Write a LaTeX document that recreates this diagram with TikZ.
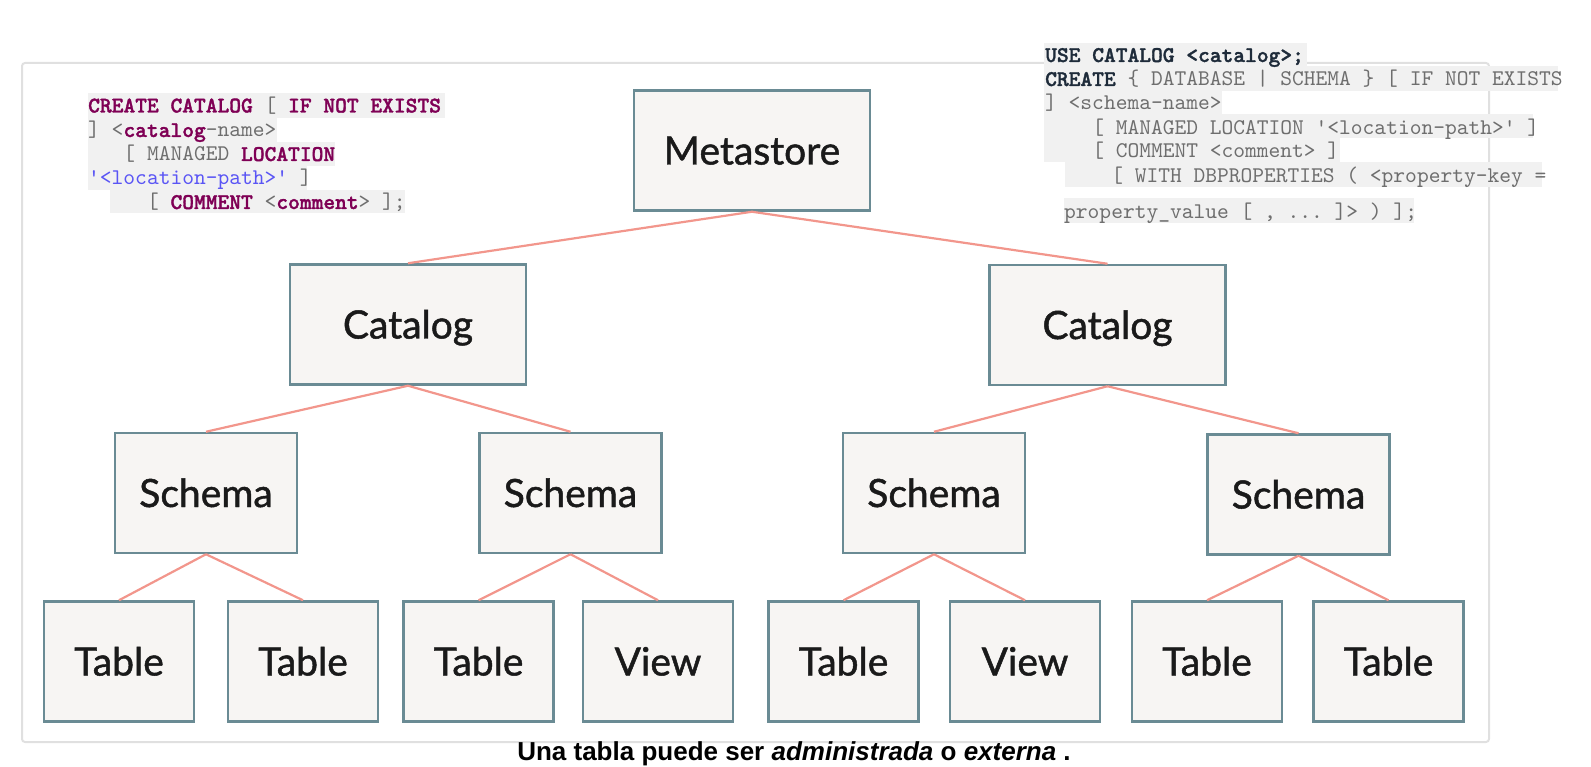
\documentclass[tikz,border=0pt]{standalone}
\usepackage{fontspec}
\setmonofont{lmmono10-regular.otf}[BoldFont=lmmonolt10-bold.otf, BoldFeatures={FakeBold=1.5}]
\newfontfamily\labelfont{Lato}[FakeBold=1.2]
\newfontfamily\capfont{Liberation Sans}
\definecolor{boxline}{HTML}{6A8B94}
\definecolor{boxfill}{HTML}{F7F5F3}
\definecolor{labeltext}{HTML}{1A1A1A}
\definecolor{linkc}{HTML}{F2968C}
\definecolor{framec}{HTML}{E0E0E0}
\definecolor{codebgc}{HTML}{F1F1F1}
\definecolor{codegray}{HTML}{6E6E6E}
\definecolor{kwc}{HTML}{7F0055}
\definecolor{bluec}{HTML}{5A55F5}
\definecolor{darkc}{HTML}{1E2B3A}
\newcommand{\kwd}[1]{{\color{kwc}\bfseries #1}}
\newcommand{\blu}[1]{{\color{bluec}#1}}
\newcommand{\drk}[1]{{\color{darkc}\bfseries #1}}
\begin{document}
\begin{tikzpicture}[x=1pt,y=-1pt,
  treebox/.style={draw=boxline, line width=2.5pt, fill=boxfill, minimum height=120pt,
    text height=28pt, text depth=0pt, inner sep=0pt,
    font=\labelfont\fontsize{39}{39}\selectfont, text=labeltext},
  wide/.style={minimum width=236pt},
  mid/.style={minimum width=182pt},
  small/.style={minimum width=150pt},
  link/.style={draw=linkc, line width=2.2pt},
  codeline/.style={anchor=base west, inner sep=0pt, font=\ttfamily\fontsize{22.4}{24}\selectfont, text=codegray},
  codebg/.style={fill=codebgc, draw=none}]
\useasboundingbox (0,0) rectangle (1591,767);
% frame
\draw[framec, line width=2pt, rounded corners=3pt] (22,63) rectangle (1489,742);
% left code block backgrounds
\fill[codebgc] (88,93) rectangle (445,118);
\fill[codebgc] (88,118) rectangle (277,142);
\fill[codebgc] (88,142) rectangle (335,166);
\fill[codebgc] (88,166) rectangle (307,190);
\fill[codebgc] (110,190) rectangle (405,213);
% right code block backgrounds
\fill[codebgc] (1044,43) rectangle (1307,66);
\fill[codebgc] (1044,66) rectangle (1558,91);
\fill[codebgc] (1044,91) rectangle (1222,114);
\fill[codebgc] (1044,114) rectangle (1533,138);
\fill[codebgc] (1044,138) rectangle (1340,162);
\fill[codebgc] (1065,162) rectangle (1542,187);
\fill[codebgc] (1064,198) rectangle (1414,223);
% left code
\node[codeline] (l1) at (88,112.5) {\kwd{CREATE~CATALOG}~[~\kwd{IF~NOT~EXISTS}};
\node[codeline] (l2) at (88,137) {]~<\kwd{catalog}-name>};
\node[codeline] (l3) at (88,161) {~~~[~MANAGED~\kwd{LOCATION}};
\node[codeline] (l4) at (88,185) {\blu{'<location-path>'}~]};
\node[codeline] (l5) at (88,209) {~~~~~[~\kwd{COMMENT}~<\kwd{comment}>~];};
% right code
\node[codeline] (r1) at (1045,62) {\drk{USE~CATALOG~<catalog>;}};
\node[codeline] (r2) at (1045,86) {\drk{CREATE}~\{~DATABASE~|~SCHEMA~\}~[~IF~NOT~EXISTS};
\node[codeline] (r3) at (1045,110) {]~<schema-name>};
\node[codeline] (r4) at (1045,135) {~~~~[~MANAGED~LOCATION~'<location-path>'~]};
\node[codeline] (r5) at (1045,158) {~~~~[~COMMENT~<comment>~]};
\node[codeline] (r6) at (1064,183) {~~~~[~WITH~DBPROPERTIES~(~<property-key~=};
\node[codeline] (r7) at (1064,219) {property\_value~[~,~...~]>~)~];};
% tree
\node[treebox, wide] (meta) at (752,150.5) {Metastore};
\node[treebox, wide] (catL) at (408,324.5) {Catalog};
\node[treebox, wide] (catR) at (1107.5,325) {Catalog};
\node[treebox, mid] (s1) at (206,493) {Schema};
\node[treebox, mid] (s2) at (570.5,493) {Schema};
\node[treebox, mid] (s3) at (934,493) {Schema};
\node[treebox, mid] (s4) at (1298.5,494.5) {Schema};
\node[treebox, small] (t1) at (119,661.5) {Table};
\node[treebox, small] (t2) at (303,661.5) {Table};
\node[treebox, small] (t3) at (478.6,661.5) {Table};
\node[treebox, small] (v1) at (658,661.5) {View};
\node[treebox, small] (t5) at (843.5,661.5) {Table};
\node[treebox, small] (v2) at (1025,661.5) {View};
\node[treebox, small] (t7) at (1207,661.5) {Table};
\node[treebox, small] (t8) at (1388.5,661.5) {Table};
% connectors
\draw[link] (meta.south) -- (catL.north);
\draw[link] (meta.south) -- (catR.north);
\draw[link] (catL.south) -- (s1.north);
\draw[link] (catL.south) -- (s2.north);
\draw[link] (catR.south) -- (s3.north);
\draw[link] (catR.south) -- (s4.north);
\draw[link] (s1.south) -- (t1.north);
\draw[link] (s1.south) -- (t2.north);
\draw[link] (s2.south) -- (t3.north);
\draw[link] (s2.south) -- (v1.north);
\draw[link] (s3.south) -- (t5.north);
\draw[link] (s3.south) -- (v2.north);
\draw[link] (s4.south) -- (t7.north);
\draw[link] (s4.south) -- (t8.north);
% caption
\node[anchor=base, inner sep=0pt, font=\capfont\bfseries\fontsize{26}{26}\selectfont, text=black] (cap) at (794,760)
  {Una tabla puede ser \textit{administrada} o \textit{externa} .};
\end{tikzpicture}
\end{document}
